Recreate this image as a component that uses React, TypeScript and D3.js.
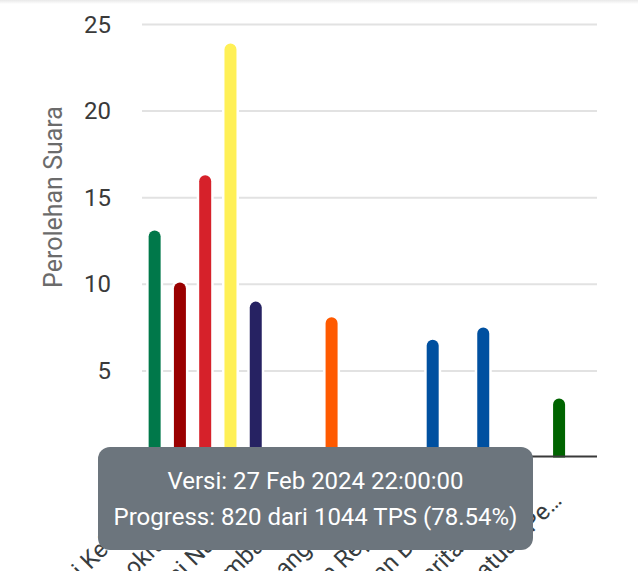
import React from "react";
import { scaleBand, scaleLinear } from "d3";

// parties in ballot order (2024)
const partyNames = [
  "Partai Kebangkitan Bangsa",
  "Partai Gerakan Indonesia Raya",
  "Partai Demokrasi Indonesia Perjuangan",
  "Partai Golongan Karya",
  "Partai NasDem",
  "Partai Buruh",
  "Partai Gelombang Rakyat Indonesia",
  "Partai Keadilan Sejahtera",
  "Partai Kebangkitan Nusantara",
  "Partai Hati Nurani Rakyat",
  "Partai Garda Republik Indonesia",
  "Partai Amanat Nasional",
  "Partai Bulan Bintang",
  "Partai Demokrat",
  "Partai Solidaritas Indonesia",
  "Partai Persatuan Indonesia",
  "Partai Persatuan Pembangunan",
  "Partai Ummat",
];

// labels as the chart shows them (every other one is skipped, long ones trimmed)
const tickLabels = [
  "Partai Kebang…", null,
  "Partai Demokrasi In…", null,
  "Partai NasDem", null,
  "Partai Gelombang R…", null,
  "Partai Kebangkitan…", null,
  "Partai Garda Republi…", null,
  "Partai Bulan Bintang", null,
  "Partai Solidaritas Ind…", null,
  "Partai Persatuan Pe…", null,
];

const votes = [13.1, 10.1, 16.3, 23.9, 9.0, 0, 0, 8.1, 0, 0, 0, 6.8, 0, 7.5, 0, 0, 3.4, 0];

const partyColors = [
  "#00784a", "#9a0000", "#d6212a", "#fff056", "#262262", "#ff2a00",
  "#00a8e0", "#ff5a00", "#7a1f1f", "#e58a00", "#c41e3a", "#0050a0",
  "#00703c", "#0050a0", "#ef2c3b", "#1b3a8c", "#006400", "#17223b",
];

const yTicks = [5, 10, 15, 20, 25];

const tooltipLines = [
  "Versi: 27 Feb 2024 22:00:00",
  "Progress: 820 dari 1044 TPS (78.54%)",
];

const W = 638;
const H = 571;
const FONT = "Roboto, 'Noto Sans', sans-serif";

export default function App() {
  const left = 142;
  const right = 597;

  const x = scaleBand<number>()
    .domain(partyNames.map((_, i) => i))
    .range([left, right])
    .padding(0);

  const y = scaleLinear().domain([0, 25]).range([457.5, 24.5]);

  const barW = 12;
  const r = barW / 2;

  // bar with rounded top, flat bottom
  const barPath = (i: number, v: number) => {
    const cx = x(i)! + x.bandwidth() / 2;
    const x0 = cx - r;
    const x1 = cx + r;
    const top = y(v);
    const base = y(0);
    return `M${x0},${base} L${x0},${top + r} A${r},${r} 0 0 1 ${x1},${top + r} L${x1},${base} Z`;
  };

  const tipX = 98;
  const tipW = 435;
  const tipY = 447;
  const tipH = 103;

  return (
    <svg
      width={W}
      height={H}
      style={{ position: "absolute", left: 0, top: 0, display: "block", background: "#fff" }}
      fontFamily={FONT}
    >
      <defs>
        <linearGradient id="topShade" x1="0" y1="0" x2="0" y2="1">
          <stop offset="0" stopColor="#e9e9e9" />
          <stop offset="1" stopColor="#ffffff" />
        </linearGradient>
      </defs>
      <rect x={0} y={0} width={W} height={4} fill="url(#topShade)" />

      {/* grid */}
      {yTicks.map((t) => (
        <line key={t} x1={left} x2={right} y1={y(t)} y2={y(t)} stroke="#e2e2e2" strokeWidth={2} />
      ))}

      {/* y tick labels */}
      {yTicks.map((t) => (
        <text
          key={"l" + t}
          x={111}
          y={y(t)}
          textAnchor="end"
          dominantBaseline="central"
          fontSize={24}
          fill="#3a3a3a"
        >
          {t}
        </text>
      ))}

      <text
        transform={`translate(62, 197) rotate(-90)`}
        textAnchor="middle"
        fontSize={25}
        fill="#6b6b6b"
      >
        Perolehan Suara
      </text>

      {/* bars */}
      {votes.map((v, i) =>
        v > 0 ? (
          <path
            key={i}
            d={barPath(i, v)}
            fill={partyColors[i]}
            stroke="#fff"
            strokeWidth={5}
            style={{ paintOrder: "stroke" }}
          />
        ) : null
      )}

      {/* x axis */}
      <line x1={left} x2={right} y1={456.5} y2={456.5} stroke="#3a3a3a" strokeWidth={2} />

      {tickLabels.map((lab, i) =>
        lab ? (
          <text
            key={"x" + i}
            transform={`translate(${x(i)! + x.bandwidth() / 2 + 4}, 502) rotate(-45)`}
            textAnchor="end"
            fontSize={24}
            fill="#373d3f"
          >
            {lab}
          </text>
        ) : null
      )}

      {/* version / progress box */}
      <rect x={tipX} y={tipY} width={tipW} height={tipH} rx={12} fill="#6c757d" />
      {tooltipLines.map((line, k) => (
        <text
          key={"t" + k}
          x={tipX + tipW / 2}
          y={489 + k * 36}
          textAnchor="middle"
          fontSize={24}
          fill="#ffffff"
        >
          {line}
        </text>
      ))}
    </svg>
  );
}
